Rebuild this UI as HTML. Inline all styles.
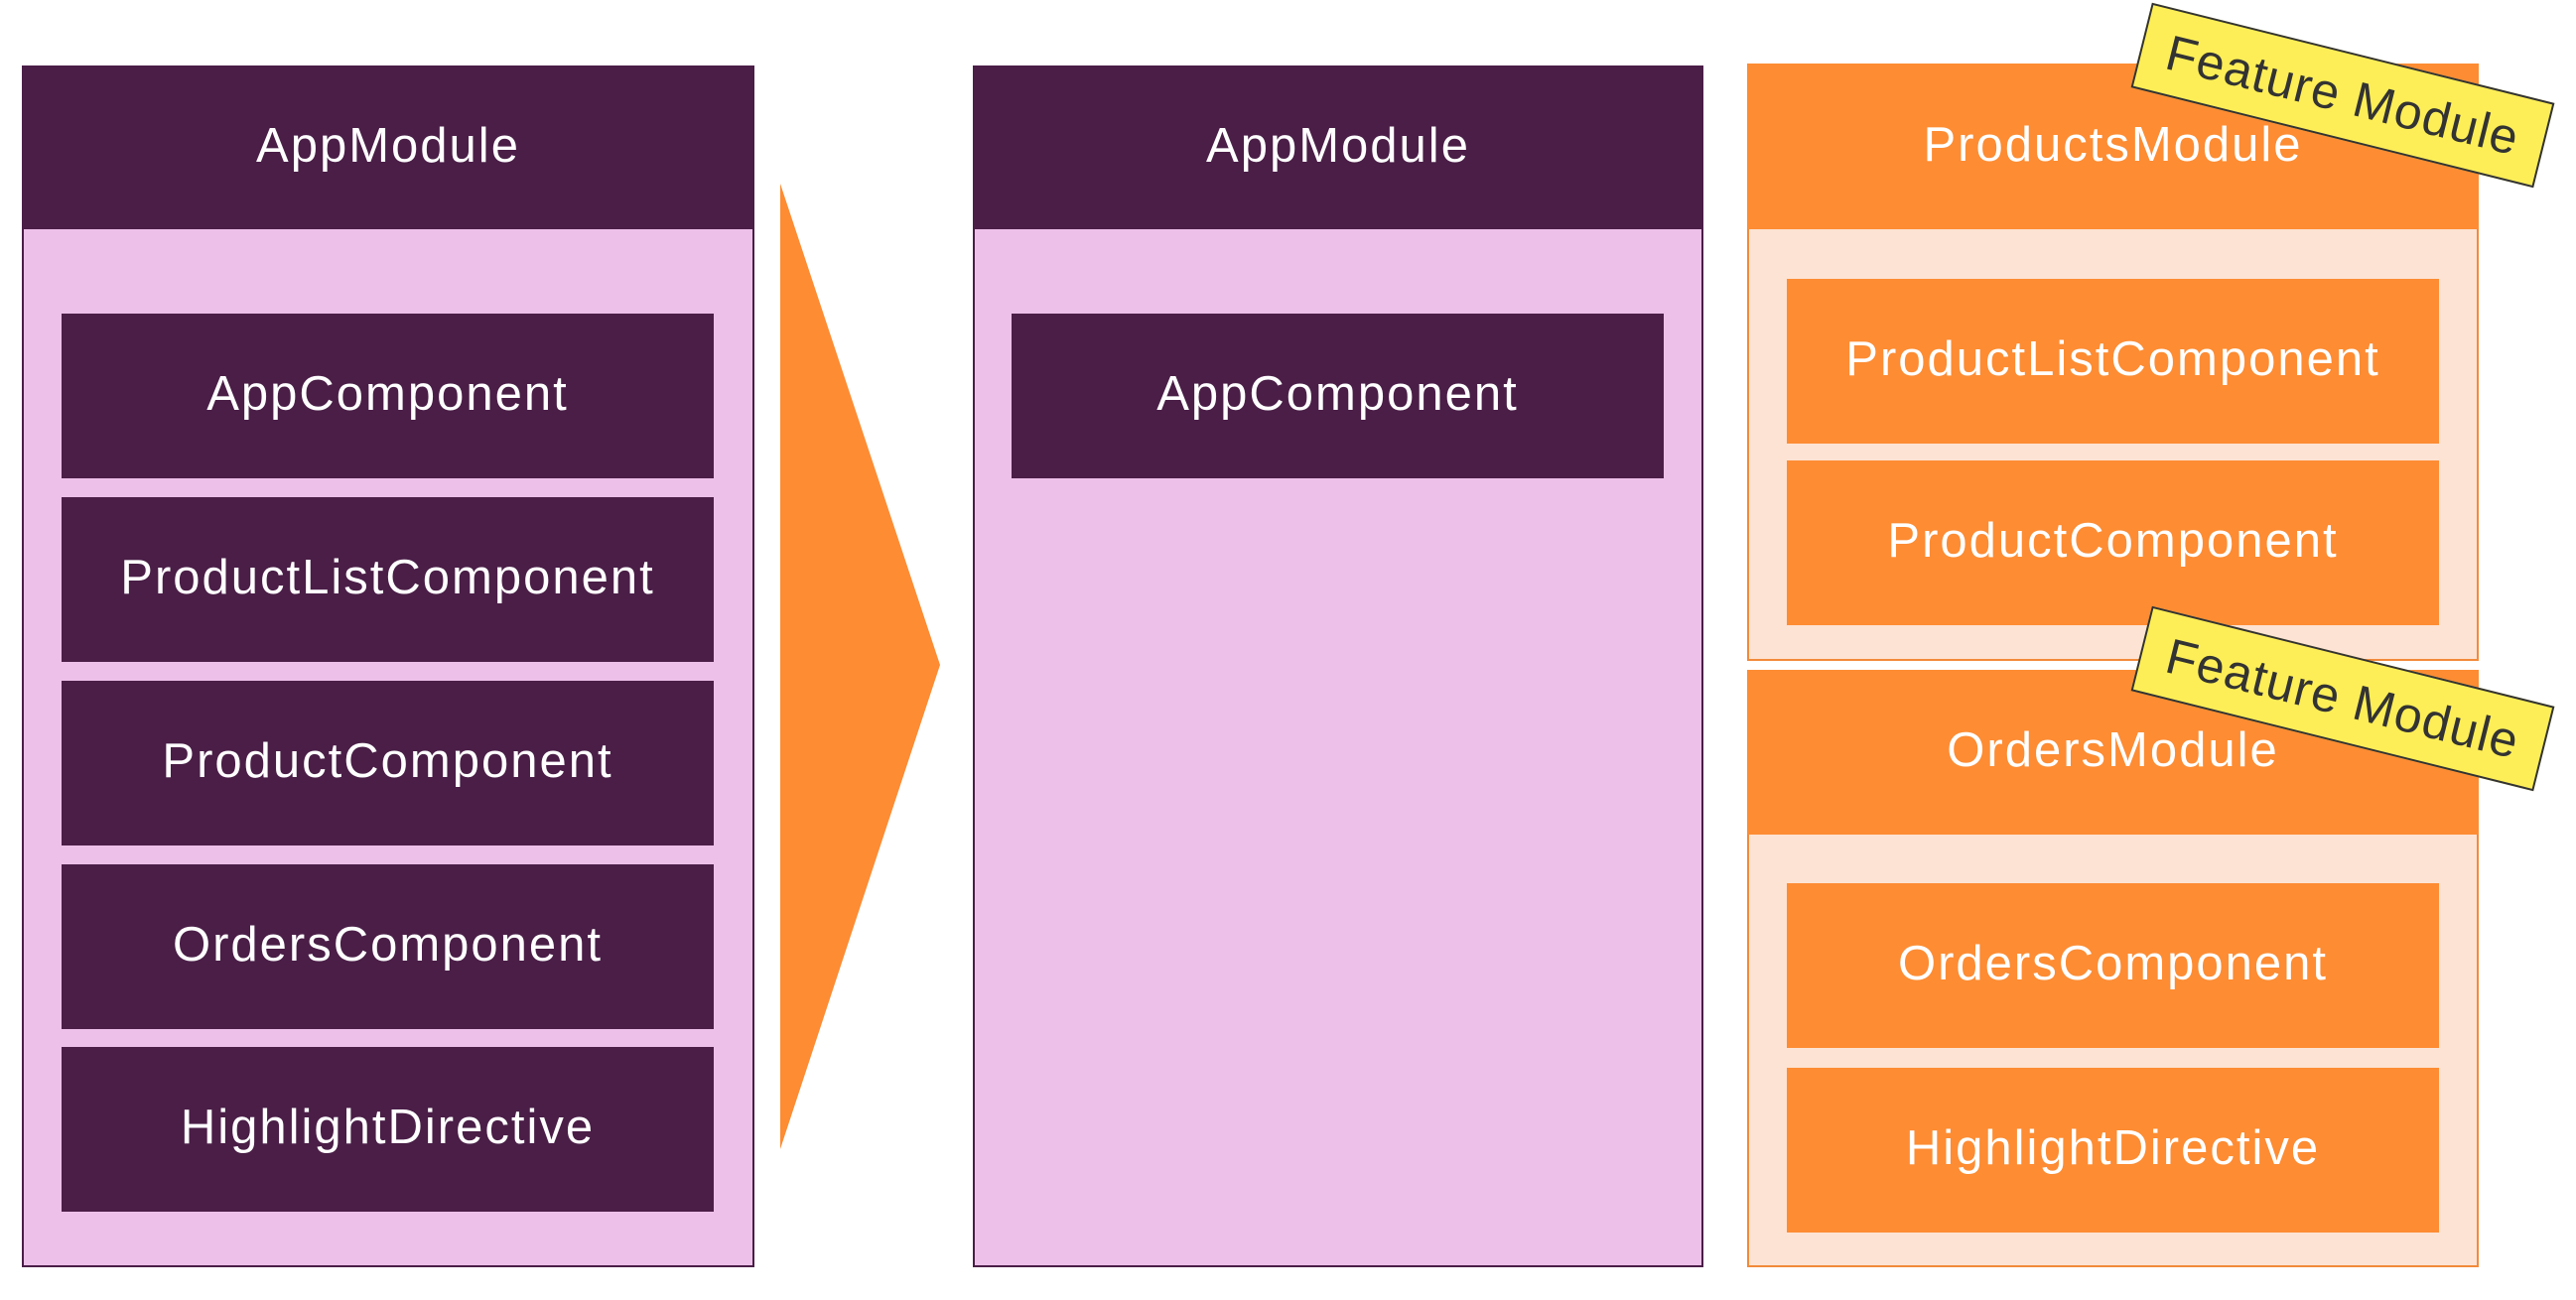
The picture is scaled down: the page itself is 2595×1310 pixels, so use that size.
<!DOCTYPE html>
<html><head><meta charset="utf-8"><style>
body{margin:0;width:2595px;height:1310px;background:#fff;position:relative;overflow:hidden;font-family:"Liberation Sans",sans-serif;}
.a{position:absolute;box-sizing:border-box;display:flex;align-items:center;justify-content:center;color:#fff;font-size:49px;letter-spacing:2px;padding-bottom:4px;}
.pk{background:#ecc0e8;border:2px solid #4a1e47;}
.pu{background:#4a1e47;}
.or{background:#fd8c33;}
.pe{background:#fde3d3;border:2px solid #f28a3a;}
.tag{position:absolute;width:418px;height:88px;background:#fdee57;border:2px solid #333;box-sizing:border-box;transform:rotate(14deg);color:#333;font-size:50px;display:flex;align-items:center;justify-content:center;letter-spacing:1px;}
</style></head><body>
<div class="a pk" style="left:22px;top:66px;width:738px;height:1211px;"></div>
<div class="a pu" style="left:22px;top:66px;width:738px;height:165px;">AppModule</div>
<div class="a pu" style="left:62px;top:316px;width:657px;height:166px;">AppComponent</div>
<div class="a pu" style="left:62px;top:501px;width:657px;height:166px;">ProductListComponent</div>
<div class="a pu" style="left:62px;top:686px;width:657px;height:166px;">ProductComponent</div>
<div class="a pu" style="left:62px;top:871px;width:657px;height:166px;">OrdersComponent</div>
<div class="a pu" style="left:62px;top:1055px;width:657px;height:166px;">HighlightDirective</div>
<svg style="position:absolute;left:0;top:0" width="2595" height="1310"><polygon points="786,185 947,670 786,1158" fill="#fd8c33"/></svg>
<div class="a pk" style="left:980px;top:66px;width:736px;height:1211px;"></div>
<div class="a pu" style="left:980px;top:66px;width:736px;height:165px;">AppModule</div>
<div class="a pu" style="left:1019px;top:316px;width:657px;height:166px;">AppComponent</div>
<div class="a pe" style="left:1760px;top:66px;width:737px;height:600px;"></div>
<div class="a or" style="left:1760px;top:64px;width:737px;height:167px;">ProductsModule</div>
<div class="a or" style="left:1800px;top:281px;width:657px;height:166px;">ProductListComponent</div>
<div class="a or" style="left:1800px;top:464px;width:657px;height:166px;">ProductComponent</div>
<div class="a pe" style="left:1760px;top:675px;width:737px;height:602px;"></div>
<div class="a or" style="left:1760px;top:675px;width:737px;height:166px;">OrdersModule</div>
<div class="a or" style="left:1800px;top:890px;width:657px;height:166px;">OrdersComponent</div>
<div class="a or" style="left:1800px;top:1076px;width:657px;height:166px;">HighlightDirective</div>
<div class="tag" style="left:2151px;top:52px;">Feature Module</div>
<div class="tag" style="left:2151px;top:660px;">Feature Module</div>
</body></html>
